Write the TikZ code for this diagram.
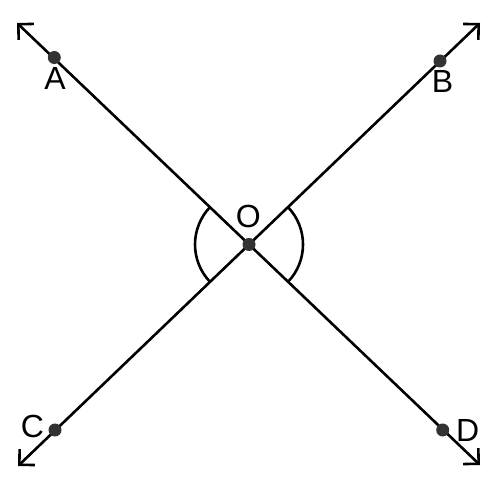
\documentclass[tikz,border=0pt]{standalone}
\usepackage{fontspec}
\setmainfont{Liberation Sans}
\usepackage{tikz}
\usetikzlibrary{arrows.meta,calc}

\begin{document}
\begin{tikzpicture}[x=1pt,y=1pt,
  ray/.style={line width=2.6pt,{Straight Barb[length=11pt,width=22pt]}-{Straight Barb[length=11pt,width=22pt]}},
  angmark/.style={line width=2.6pt},
  dot/.style={circle,fill=black!80,inner sep=0pt,minimum size=13pt},
  lbl/.style={inner sep=0pt,font=\fontsize{32}{32}\selectfont}]
\useasboundingbox (0,0) rectangle (495,487);
% ends of the two lines
\coordinate (tl) at (17,464);
\coordinate (br) at (480,22);
\coordinate (bl) at (18,21);
\coordinate (tr) at (480,464);
\coordinate (O) at (intersection of tl--br and bl--tr);
\draw[ray] (tl) -- (br);
\draw[ray] (bl) -- (tr);
% vertical angles
\draw[angmark] ($(O)+(136.5:54)$) arc[start angle=136.5,end angle=223.5,radius=54];
\draw[angmark] ($(O)+(-43.5:54)$) arc[start angle=-43.5,end angle=43.5,radius=54];
% points
\node[dot] (o) at (O) {};
\node[dot] (a) at (54.3,429.5) {};
\node[dot] (b) at (440,426) {};
\node[dot] (c) at (55,57) {};
\node[dot] (d) at (442.7,57) {};
\node[lbl] (lo) at (248.3,270.3) {O};
\node[lbl] (la) at (55,408.5) {A};
\node[lbl] (lb) at (442.5,405.5) {B};
\node[lbl] (lc) at (32.5,60.3) {C};
\node[lbl] (ld) at (467.7,57) {D};
\end{tikzpicture}
\end{document}
